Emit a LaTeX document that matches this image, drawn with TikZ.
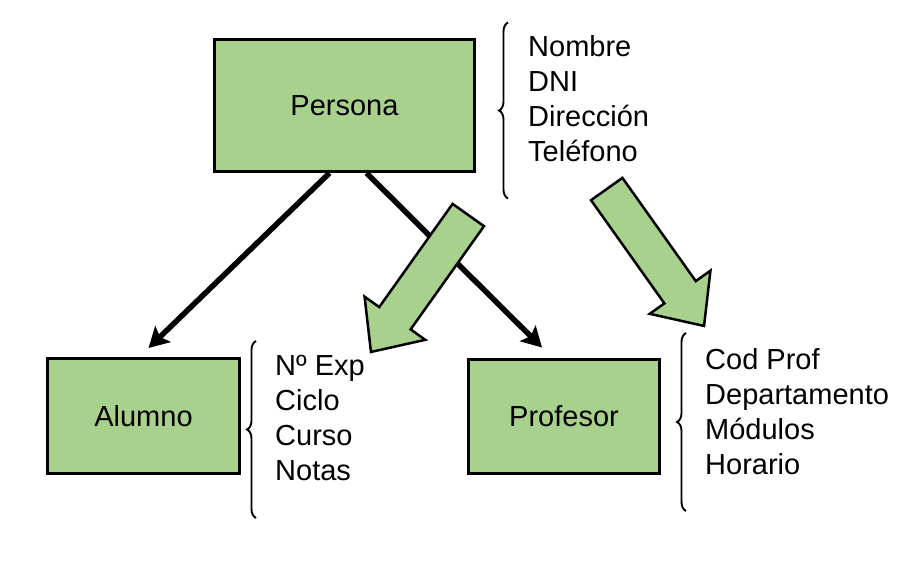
\documentclass[tikz,border=0pt]{standalone}
\usepackage{fontspec}
\setmainfont{Liberation Sans}
\usetikzlibrary{shapes,arrows.meta}
\usetikzlibrary{positioning,decorations.pathreplacing}
\definecolor{boxgreen}{HTML}{A9D18E}
\tikzset{clase/.style={draw, line width=3pt, fill=boxgreen, font=\fontsize{29}{35}\selectfont},
attrs/.style={align=left, inner sep=0pt, anchor=north west, font=\fontsize{29}{35}\selectfont},
herencia/.style={single arrow, draw, line width=2.5pt, fill=boxgreen, minimum height=168pt,
  inner xsep=0pt, inner ysep=18pt, single arrow head extend=18pt, single arrow tip angle=84, anchor=tail},
llave/.style={decorate, decoration={brace, amplitude=9pt}, line width=1.9pt}
}

\begin{document}
\begin{tikzpicture}[> = {Stealth[length=20pt, width=22pt, inset=4pt]}, x=1pt, y=-1pt, on grid]
            \useasboundingbox (0,0) rectangle (917,562);
            \node[clase, minimum width=260pt, minimum height=132pt] (persona) at (344.5,105.5) {Persona};
            \node[clase, minimum width=192pt, minimum height=115pt] (alumno) [below left=310.5pt and 201pt of persona] {Alumno};
            \node[clase, minimum width=191pt, minimum height=114pt] (profesor) [right=420.5pt of alumno] {Profesor};
            \node[attrs] (atrPersona) at (528,35.5) {Nombre\\DNI\\Dirección\\Teléfono};
            \node[attrs] (atrAlumno) at (275,355) {Nº Exp\\Ciclo\\Curso\\Notas};
            \node[attrs] (atrProfesor) at (705,348) {Cod Prof\\Departamento\\Módulos\\Horario};
            \draw[llave] ([shift={(-20pt,-163pt)}]atrPersona.north west) -- ([shift={(-20pt,13pt)}]atrPersona.north west);
            \draw[llave] ([shift={(-19pt,-163pt)}]atrAlumno.north west) -- ([shift={(-19pt,14pt)}]atrAlumno.north west);
            \draw[llave] ([shift={(-19pt,-163pt)}]atrProfesor.north west) -- ([shift={(-19pt,15pt)}]atrProfesor.north west);
            \path[->, line width=5.5pt]
                ([xshift=-15pt]persona.south) edge ([shift={(5pt,9pt)}]alumno.north)
                ([xshift=22pt]persona.south) edge ([shift={(-22pt,10pt)}]profesor.north);
            \node[herencia, rotate=-125.4] (flechaAlumno) at (469,214) {};
            \node[herencia, rotate=-54.6] (flechaProfesor) at (606,188) {};
        \end{tikzpicture}
\end{document}
